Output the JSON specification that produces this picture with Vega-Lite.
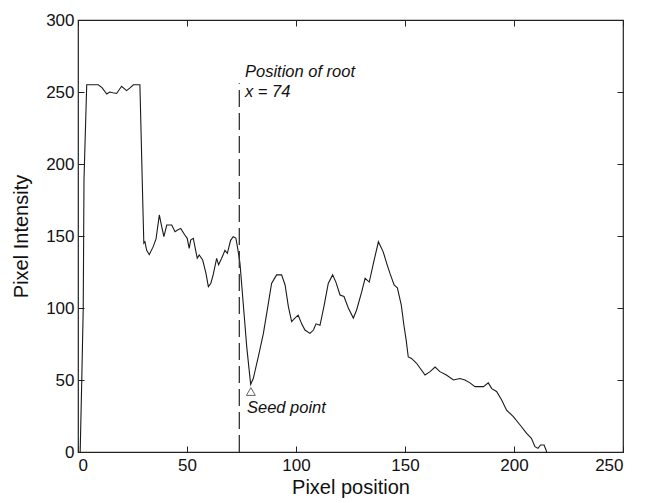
{
  "$schema": "https://vega.github.io/schema/vega-lite/v6.json",
  "autosize": {"type": "none"},
  "width": 545,
  "height": 432,
  "padding": {"left": 78, "top": 20, "right": 25, "bottom": 51},
  "background": "white",
  "config": {
    "font": "Liberation Sans",
    "view": {"stroke": "#222", "strokeWidth": 1.2},
    "axis": {
      "grid": false,
      "domain": false,
      "tickSize": -6,
      "tickColor": "#222",
      "tickWidth": 1,
      "labelFont": "Liberation Sans Narrow, Liberation Sans",
      "labelFontSize": 17,
      "labelColor": "#111",
      "titleFont": "Liberation Sans",
      "titleFontSize": 20,
      "titleFontWeight": "normal",
      "titleColor": "#111"
    }
  },
  "datasets": {
    "profile": [
      {"pos": 1, "intensity": 0}, {"pos": 1.7, "intensity": 48}, {"pos": 2.4, "intensity": 100}, {"pos": 2.75, "intensity": 189},
      {"pos": 4, "intensity": 255}, {"pos": 9.3, "intensity": 255}, {"pos": 11, "intensity": 253}, {"pos": 13.2, "intensity": 248.6},
      {"pos": 14.5, "intensity": 250}, {"pos": 16, "intensity": 249.5}, {"pos": 17.7, "intensity": 249}, {"pos": 20, "intensity": 254},
      {"pos": 22.3, "intensity": 251}, {"pos": 24, "intensity": 253}, {"pos": 25.4, "intensity": 255}, {"pos": 28.4, "intensity": 255},
      {"pos": 29.8, "intensity": 168}, {"pos": 30.2, "intensity": 145}, {"pos": 30.7, "intensity": 146}, {"pos": 31.5, "intensity": 140},
      {"pos": 32.7, "intensity": 137}, {"pos": 34.5, "intensity": 142.6}, {"pos": 35.8, "intensity": 148}, {"pos": 37.3, "intensity": 164.6},
      {"pos": 38.4, "intensity": 156.5}, {"pos": 39.4, "intensity": 149.5}, {"pos": 40.7, "intensity": 157.6}, {"pos": 43, "intensity": 157.6},
      {"pos": 44.5, "intensity": 153}, {"pos": 45.5, "intensity": 154}, {"pos": 47.1, "intensity": 155.3}, {"pos": 49, "intensity": 150.7},
      {"pos": 50.1, "intensity": 148.4}, {"pos": 51, "intensity": 141.4}, {"pos": 51.7, "intensity": 147.2}, {"pos": 52.9, "intensity": 148.4},
      {"pos": 54.1, "intensity": 139}, {"pos": 54.7, "intensity": 134.5}, {"pos": 55.6, "intensity": 136.8}, {"pos": 57.2, "intensity": 133.3},
      {"pos": 58.7, "intensity": 124}, {"pos": 59.8, "intensity": 114.8}, {"pos": 60.9, "intensity": 117}, {"pos": 62, "intensity": 123},
      {"pos": 63.6, "intensity": 134.5}, {"pos": 64.5, "intensity": 130}, {"pos": 65.9, "intensity": 134.5}, {"pos": 67.4, "intensity": 140},
      {"pos": 68.5, "intensity": 138}, {"pos": 70, "intensity": 147}, {"pos": 71.2, "intensity": 149.5}, {"pos": 72.4, "intensity": 148.6},
      {"pos": 73.3, "intensity": 141}, {"pos": 74.3, "intensity": 131}, {"pos": 75.8, "intensity": 103}, {"pos": 77.4, "intensity": 73},
      {"pos": 79.2, "intensity": 47}, {"pos": 80.4, "intensity": 51}, {"pos": 82.7, "intensity": 66}, {"pos": 85, "intensity": 82},
      {"pos": 87.3, "intensity": 103}, {"pos": 88.8, "intensity": 117}, {"pos": 91.1, "intensity": 123}, {"pos": 93.4, "intensity": 123},
      {"pos": 95, "intensity": 116}, {"pos": 96.5, "intensity": 101}, {"pos": 98, "intensity": 90.5}, {"pos": 99.5, "intensity": 93},
      {"pos": 101, "intensity": 95}, {"pos": 102.6, "intensity": 89}, {"pos": 104.1, "intensity": 84.7}, {"pos": 106.4, "intensity": 82.4},
      {"pos": 108, "intensity": 84.7}, {"pos": 109.2, "intensity": 89}, {"pos": 111, "intensity": 88}, {"pos": 112.8, "intensity": 101},
      {"pos": 114.8, "intensity": 117}, {"pos": 116.8, "intensity": 123}, {"pos": 118.3, "intensity": 118}, {"pos": 120.2, "intensity": 109},
      {"pos": 122, "intensity": 108}, {"pos": 124, "intensity": 100}, {"pos": 126.3, "intensity": 93}, {"pos": 127.8, "intensity": 98.6},
      {"pos": 130.1, "intensity": 111}, {"pos": 131.7, "intensity": 120.6}, {"pos": 133.6, "intensity": 118}, {"pos": 135.5, "intensity": 131},
      {"pos": 137.8, "intensity": 146}, {"pos": 140, "intensity": 139}, {"pos": 141.6, "intensity": 131}, {"pos": 143.1, "intensity": 124},
      {"pos": 145, "intensity": 116}, {"pos": 146.5, "intensity": 114}, {"pos": 148.3, "intensity": 102}, {"pos": 149.5, "intensity": 88},
      {"pos": 150.5, "intensity": 78}, {"pos": 151.5, "intensity": 66}, {"pos": 153, "intensity": 65}, {"pos": 155.3, "intensity": 61.6},
      {"pos": 159.2, "intensity": 53.5}, {"pos": 161.5, "intensity": 55.8}, {"pos": 163.8, "intensity": 59}, {"pos": 166, "intensity": 55.8},
      {"pos": 169, "intensity": 53.5}, {"pos": 172.2, "intensity": 50}, {"pos": 175.2, "intensity": 51}, {"pos": 177.5, "intensity": 50},
      {"pos": 179.8, "intensity": 48}, {"pos": 182.1, "intensity": 45.4}, {"pos": 186, "intensity": 45.4}, {"pos": 188.2, "intensity": 48},
      {"pos": 189.8, "intensity": 44}, {"pos": 192, "intensity": 42}, {"pos": 194.4, "intensity": 36}, {"pos": 196.6, "intensity": 29},
      {"pos": 199.7, "intensity": 24.5}, {"pos": 202.8, "intensity": 18.75}, {"pos": 205.8, "intensity": 13}, {"pos": 208, "intensity": 9.5},
      {"pos": 209.6, "intensity": 3.7}, {"pos": 211, "intensity": 2.5}, {"pos": 212.2, "intensity": 4.9}, {"pos": 213.8, "intensity": 4.9},
      {"pos": 214.7, "intensity": 1.4}, {"pos": 215, "intensity": 0}
    ],
    "rootline": [{"pos": 74, "y0": 0, "y1": 256}],
    "seed": [{"pos": 79.3, "intensity": 42}],
    "notes": [
      {"pos": 76.6, "intensity": 264, "label": "Position of root"},
      {"pos": 76.6, "intensity": 250, "label": "x = 74"},
      {"pos": 77.5, "intensity": 30.5, "label": "Seed point"}
    ]
  },
  "layer": [
    {
      "layer": [
        {
          "data": {"name": "profile"},
          "mark": {"type": "line", "color": "#1a1a1a", "strokeWidth": 1.1, "clip": true},
          "encoding": {
            "x": {"field": "pos", "type": "quantitative", "scale": {"domain": [0, 250], "nice": false},
              "axis": {"title": "Pixel position", "values": [0, 50, 100, 150, 200, 250], "labelPadding": 11, "titlePadding": 4}},
            "y": {"field": "intensity", "type": "quantitative", "scale": {"domain": [0, 300], "nice": false},
              "axis": {"title": "Pixel Intensity", "values": [0, 50, 100, 150, 200, 250, 300], "labelPadding": 10, "titlePadding": 14}}
          }
        },
        {
          "data": {"name": "rootline"},
          "mark": {"type": "rule", "color": "#333", "strokeWidth": 1.3, "strokeDash": [17, 6]},
          "encoding": {
            "x": {"field": "pos", "type": "quantitative"},
            "y": {"field": "y0", "type": "quantitative"},
            "y2": {"field": "y1"}
          }
        },
        {
          "data": {"name": "seed"},
          "mark": {"type": "point", "shape": "triangle-up", "filled": false, "color": "#222", "size": 80, "strokeWidth": 1},
          "encoding": {
            "x": {"field": "pos", "type": "quantitative"},
            "y": {"field": "intensity", "type": "quantitative"}
          }
        },
        {
          "data": {"name": "notes"},
          "mark": {"type": "text", "align": "left", "baseline": "middle", "fontStyle": "italic", "fontSize": 16.5, "color": "#111", "font": "Liberation Sans"},
          "encoding": {
            "x": {"field": "pos", "type": "quantitative"},
            "y": {"field": "intensity", "type": "quantitative"},
            "text": {"field": "label"}
          }
        }
      ]
    },
    {
      "data": {"name": "seed"},
      "mark": {"type": "point", "opacity": 0},
      "encoding": {
        "x": {"field": "pos", "type": "quantitative", "axis": {"orient": "top", "title": null, "labels": false, "values": [0, 50, 100, 150, 200, 250]}},
        "y": {"field": "intensity", "type": "quantitative", "axis": {"orient": "right", "title": null, "labels": false, "values": [0, 50, 100, 150, 200, 250, 300]}}
      }
    }
  ],
  "resolve": {"axis": {"x": "independent", "y": "independent"}}
}
